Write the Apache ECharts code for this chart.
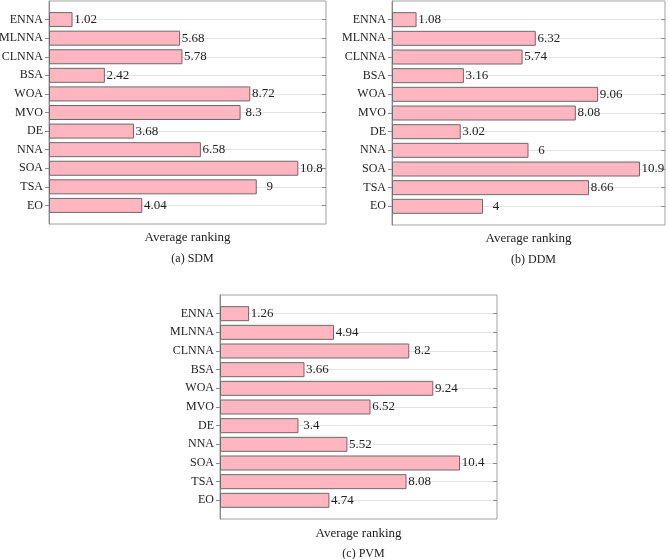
<!DOCTYPE html>
<html><head><meta charset="utf-8">
<script src="https://cdn.jsdelivr.net/npm/echarts@6/dist/echarts.min.js"></script>
<style>html,body{margin:0;padding:0;background:#fff}#c{width:669px;height:559px}</style>
</head><body><div id="c"></div>
<script>
var categories = ['ENNA','MLNNA','CLNNA','BSA','WOA','MVO','DE','NNA','SOA','TSA','EO'];
var sdmValues = [1.02,5.68,5.78,2.42,8.72,8.3,3.68,6.58,10.8,9,4.04];
var ddmValues = [1.08,6.32,5.74,3.16,9.06,8.08,3.02,6,10.9,8.66,4];
var pvmValues = [1.26,4.94,8.2,3.66,9.24,6.52,3.4,5.52,10.4,8.08,4.74];
var panelTitles = ['(a) SDM','(b) DDM','(c) PVM'];
var axisName = 'Average ranking';

var FONT = 'Liberation Serif';
var grids = [
  {left:49, top:1, width:277, height:223, nameGap:7, titleGap:24},
  {left:392, top:1, width:273, height:224, nameGap:7, titleGap:24},
  {left:220, top:295, width:277, height:224, nameGap:8, titleGap:24}
];
var values = [sdmValues, ddmValues, pvmValues];
var yCats = [''].concat(categories).concat(['']);
function inner(i){ return i>0 && i<yCats.length-1; }

var option = {
  backgroundColor:'#fff',
  animation:false,
  textStyle:{fontFamily:FONT},
  title: [],
  grid: grids.map(function(g){ return {left:g.left, top:g.top, width:g.width, height:g.height, containLabel:false, outerBoundsMode:'none', show:true, borderColor:'#a0a0a0', borderWidth:1, backgroundColor:'#fff'}; }),
  xAxis: [], yAxis: [], series: []
};
grids.forEach(function(g, k){
  option.xAxis.push({type:'value', gridIndex:k, min:0, max:12, interval:1,
    axisLabel:{show:false}, axisTick:{show:false}, axisLine:{show:false}, splitLine:{show:false},
    name: axisName, nameLocation:'middle', nameGap:g.nameGap,
    nameTextStyle:{fontFamily:FONT, fontSize:13, color:'#222', verticalAlign:'top'}});
  option.yAxis.push({type:'category', gridIndex:k, data:yCats, inverse:true, boundaryGap:false,
    axisLine:{show:true, lineStyle:{color:'#8a8a8a'}},
    axisTick:{show:true, length:4, interval:function(i){return inner(i);}, lineStyle:{color:'#8a8a8a'}},
    axisLabel:{fontFamily:FONT, fontSize:12, color:'#222', margin:6, interval:0},
    splitLine:{show:true, interval:function(i){return inner(i);}, lineStyle:{color:'#e4e4e4', width:1}}});
  option.yAxis.push({type:'category', gridIndex:k, data:yCats, inverse:true, boundaryGap:false, position:'right',
    axisLine:{show:false}, axisLabel:{show:false}, splitLine:{show:false},
    axisTick:{show:true, inside:true, length:4, interval:function(i){return inner(i);}, lineStyle:{color:'#8a8a8a'}}});
  option.series.push({type:'bar', xAxisIndex:k, yAxisIndex:2*k, barWidth:15,
    data:[null].concat(values[k]).concat([null]),
    itemStyle:{color:'#FFB6C1', borderColor:'#6a6a6a', borderWidth:1},
    label:{show:true, position:'right', distance:13, align:'center', fontFamily:FONT, fontSize:13, color:'#222'}});
  option.title.push({text:panelTitles[k], left:g.left+g.width/2, top:g.top+g.height+g.titleGap, textAlign:'center',
    textStyle:{fontFamily:FONT, fontSize:12, fontWeight:'normal', color:'#222'}});
});
var chart = echarts.init(document.getElementById('c'), null, {renderer:'canvas'});
chart.setOption(option);
</script></body></html>
